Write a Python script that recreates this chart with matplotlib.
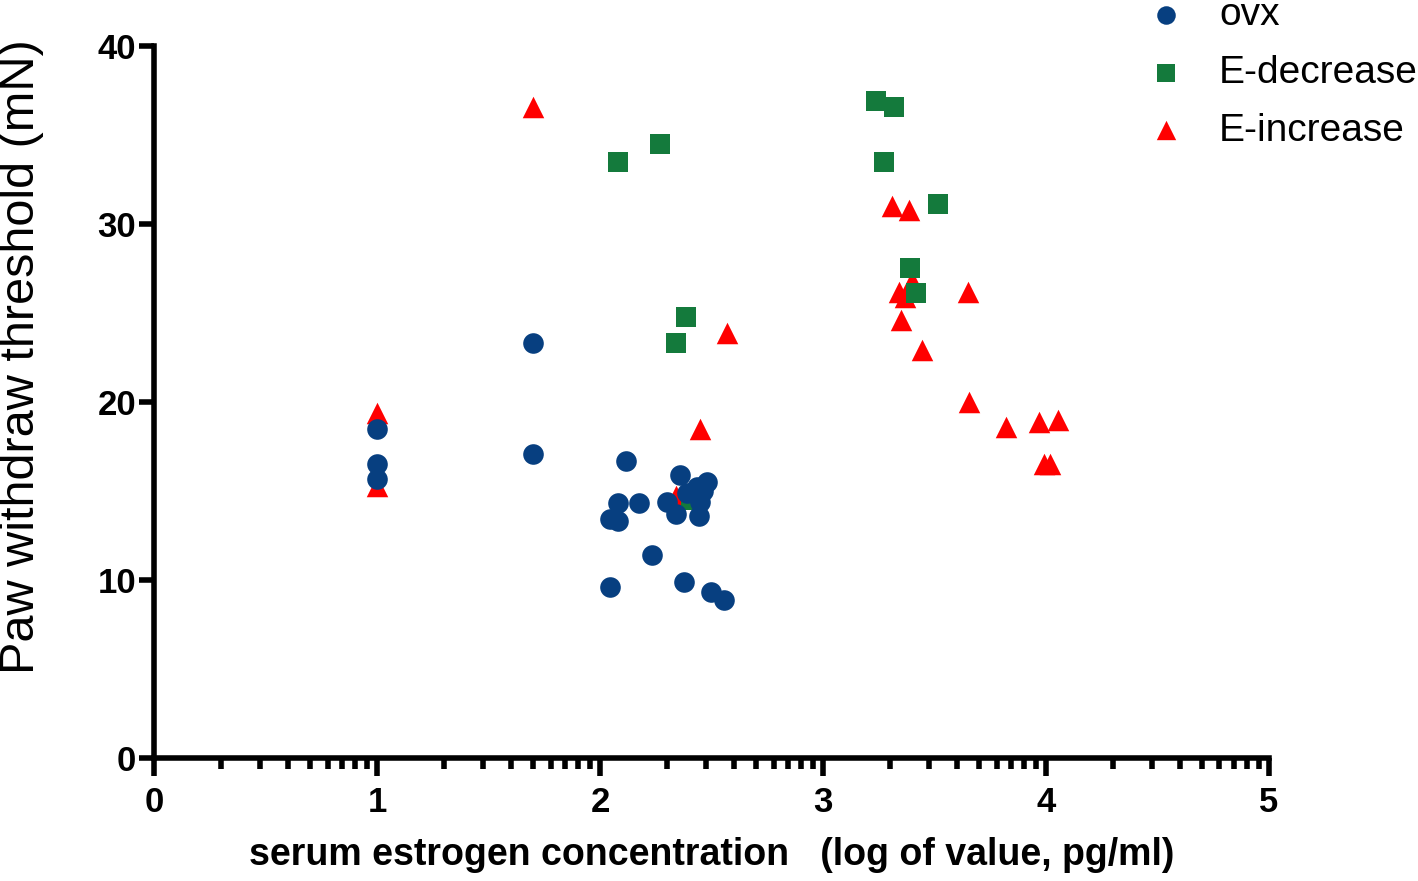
import numpy as np
import matplotlib
matplotlib.use("Agg")
import matplotlib.pyplot as plt

plt.rcParams['font.family'] = ['Liberation Sans', 'DejaVu Sans']

# ovx
ovx_x = [1.0, 1.0, 1.0, 1.70, 1.70, 2.115, 2.361, 2.478, 2.433, 2.39, 2.463, 2.448,
         2.082, 2.176, 2.299, 2.34, 2.444, 2.045, 2.082, 2.232, 2.045, 2.377, 2.50, 2.556]
ovx_y = [18.5, 16.5, 15.7, 23.3, 17.1, 16.7, 15.9, 15.5, 15.2, 14.9, 15.0, 14.4,
         14.3, 14.3, 14.4, 13.7, 13.6, 13.4, 13.3, 11.4, 9.6, 9.9, 9.3, 8.9]

# E-decrease
dec_x = [2.081, 2.269, 2.386, 2.341, 2.41, 3.236, 3.317, 3.272, 3.517, 3.392, 3.417]
dec_y = [33.5, 34.5, 24.8, 23.3, 14.5, 36.9, 36.6, 33.5, 31.1, 27.5, 26.1]

# E-increase
inc_x = [1.70, 1.0, 1.0, 2.57, 2.448, 2.339, 3.311, 3.386, 3.40, 3.342, 3.368,
         3.352, 3.444, 3.652, 3.657, 3.82, 3.97, 4.054, 3.99, 4.02]
inc_y = [36.6, 19.4, 15.3, 23.9, 18.5, 14.7, 31.0, 30.8, 26.8, 26.2, 25.9,
         24.6, 22.9, 26.2, 20.0, 18.6, 18.9, 19.0, 16.5, 16.5]

fig = plt.figure(figsize=(14.18, 8.81), dpi=100)
ax = fig.add_axes([0.1086, 0.1396, 0.7863, 0.8082])

h_inc = ax.scatter(inc_x, inc_y, marker='^', s=240, color='#ff0000', linewidths=0, zorder=3, clip_on=False)
h_dec = ax.scatter(dec_x, dec_y, marker='s', s=200, color='#147a3c', linewidths=0, zorder=4, clip_on=False)
h_ovx = ax.scatter(ovx_x, ovx_y, marker='o', s=220, color='#073f80', linewidths=0, zorder=5, clip_on=False)

ax.set_xlim(0, 5)
ax.set_ylim(0, 40)
ax.set_xticks([0, 1, 2, 3, 4, 5])
minor = [d + np.log10(k) for d in range(5) for k in range(2, 10)]
ax.set_xticks(minor, minor=True)
ax.set_yticks([0, 10, 20, 30, 40])

for s in ['top', 'right']:
    ax.spines[s].set_visible(False)
for s in ['left', 'bottom']:
    ax.spines[s].set_linewidth(4)

ax.tick_params(axis='x', which='major', direction='out', length=13, width=4,
               labelsize=25, pad=7)
ax.tick_params(axis='y', which='major', direction='out', length=11, width=4,
               labelsize=25, pad=2)
ax.tick_params(axis='x', which='minor', direction='out', length=8, width=4)
for lab in ax.get_xticklabels() + ax.get_yticklabels():
    lab.set_fontweight('bold')

ax.set_xlabel('serum estrogen concentration   (log of value, pg/ml)', fontsize=27,
              fontweight='bold', labelpad=13)
fig.text(22 / 1418, 1 - 357 / 881, 'Paw withdraw threshold (mN)', fontsize=35,
         rotation=90, ha='center', va='center')

fig.legend([h_ovx, h_dec, h_inc], ['ovx', 'E-decrease', 'E-increase'],
           loc='upper left', bbox_to_anchor=(1112 / 1418, 1.043), frameon=False,
           fontsize=28, markerscale=0.9, handlelength=1.0, handletextpad=0.85,
           labelspacing=0.56, borderpad=0.4, scatterpoints=1)

fig.savefig('out.png', dpi=100)
